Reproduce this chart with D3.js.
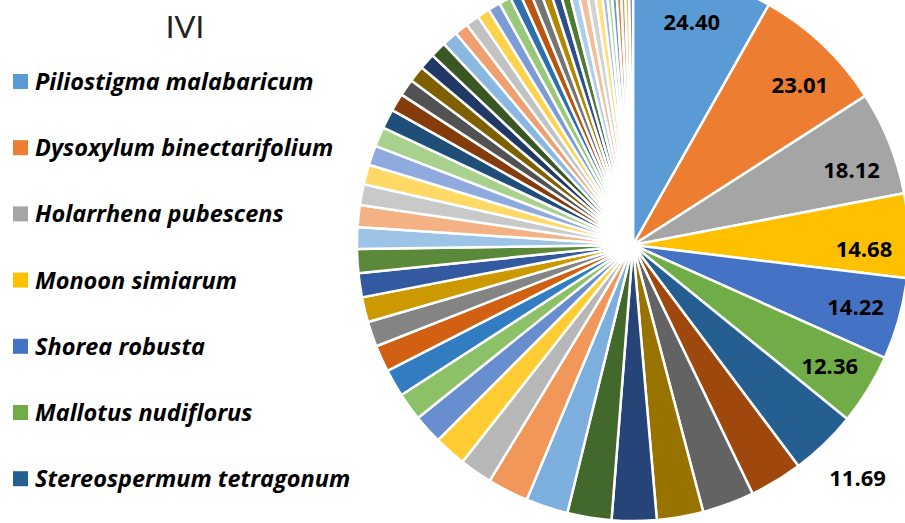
<!DOCTYPE html>
<html>
<head>
<meta charset="utf-8">
<script src="https://cdn.jsdelivr.net/npm/d3@7"></script>
<style>
  body { margin: 0; background: #fff; }
  svg { display: block; font-family: Lato, "Open Sans", sans-serif; }
</style>
</head>
<body>
<svg width="905" height="523"></svg>
<script>
// species shown in the legend (the rest do not fit)
const species = [
  "Piliostigma malabaricum",
  "Dysoxylum binectarifolium",
  "Holarrhena pubescens",
  "Monoon simiarum",
  "Shorea robusta",
  "Mallotus nudiflorus",
  "Stereospermum tetragonum"
];

// IVI per species, sorted high to low (tail)
const ivi = [
  24.40, 23.01, 18.12, 14.68, 14.22, 12.36, 11.69,
  9.20, 9.05, 8.10, 7.80, 7.70, 7.35, 7.15,
  5.70, 5.62, 5.15, 4.85, 4.80, 4.65, 4.40, 4.35, 4.20, 4.15,
  3.80, 3.78, 3.65, 3.45, 3.45, 3.40, 3.38, 3.10, 2.95, 2.85, 2.80, 2.78, 2.75,
  2.40, 2.35, 2.20, 2.15, 2.10, 1.80, 1.75, 1.70, 1.65, 1.62, 1.60, 1.58, 1.55, 1.45, 1.30,
  0.95, 0.90, 0.88, 0.85, 0.80, 0.75, 0.70
];

// how many slices carry a value label
const labelled = 7;

// office style colour cycle
const palette = [
  "#5B9BD5", "#ED7D31", "#A5A5A5", "#FFC000", "#4472C4", "#70AD47",
  "#255E91", "#9E480E", "#636363", "#997300", "#264478", "#43682B",
  "#7CAFDD", "#F1975A", "#B7B7B7", "#FFCD33", "#698ED0", "#8CC168",
  "#327DC2", "#D26012", "#848484", "#CC9A00", "#335AA1", "#5A8A39",
  "#9DC3E6", "#F4B183", "#C9C9C9", "#FFD966", "#8FAADC", "#A9D18E",
  "#1F4E79", "#843C0C", "#525252", "#7F6000", "#203864", "#385723",
  "#8AB8E0", "#F0A070", "#C2C2C2", "#FFD24C", "#7D9BD5", "#98C87A",
  "#2E6FAE", "#BA5510", "#747474", "#B38600", "#2D4F8E", "#4E7A32",
  "#ADCDEA", "#F6BE98", "#D2D2D2", "#FFDF80", "#A1B8E1", "#B7D8A0"
];

const svg = d3.select("svg");
const cx = 633, cy = 245, radius = 276;

const color = d3.scaleOrdinal()
    .domain(d3.range(ivi.length))
    .range(palette);

const pie = d3.pie()
    .sort(null)
    .value(d => d);

const arcs = pie(ivi);

const arc = d3.arc()
    .innerRadius(0)
    .outerRadius(radius);

const g = svg.append("g")
    .attr("transform", `translate(${cx},${cy})`);

g.selectAll("path")
  .data(arcs)
  .join("path")
    .attr("d", arc)
    .attr("fill", (d, i) => color(i))
    .attr("stroke", "#fff")
    .attr("stroke-width", 2.5)
    .attr("stroke-linejoin", "round");

// value labels: inside near the rim, last one outside
// excel pushes the upper-right labels a little clockwise
const labelPos = (d, i) => {
  const a = (d.startAngle + d.endAngle) / 2 + (i > 0 && i < 4 ? 0.05 : 0);
  const r = i < labelled - 1 ? 231 : 324;
  return [r * Math.sin(a), -r * Math.cos(a)];
};

g.selectAll("text.val")
  .data(arcs.slice(0, labelled))
  .join("text")
    .attr("class", "val")
    .attr("transform", (d, i) => `translate(${labelPos(d, i)})`)
    .attr("text-anchor", "middle")
    .attr("dy", "0.36em")
    .attr("font-family", "'Open Sans', sans-serif")
    .attr("font-size", 22)
    .attr("font-weight", 700)
    .attr("fill", "#000")
    .text(d => d.data.toFixed(2));

// title
svg.append("text")
    .attr("x", 185)
    .attr("y", 38)
    .attr("text-anchor", "middle")
    .attr("font-size", 31)
    .attr("fill", "#222")
    .text("IVI");

// legend
const legend = svg.append("g")
  .selectAll("g")
  .data(species)
  .join("g")
    .attr("transform", (d, i) => `translate(13,${74 + i * 66.2})`);

legend.append("rect")
    .attr("width", 15)
    .attr("height", 15)
    .attr("fill", (d, i) => color(i));

legend.append("text")
    .attr("x", 22)
    .attr("y", 7.5)
    .attr("dy", "0.36em")
    .attr("font-family", "'Open Sans', sans-serif")
    .attr("font-size", 23.5)
    .attr("font-weight", 700)
    .attr("font-style", "italic")
    .attr("fill", "#000")
    .text(d => d);
</script>
</body>
</html>
